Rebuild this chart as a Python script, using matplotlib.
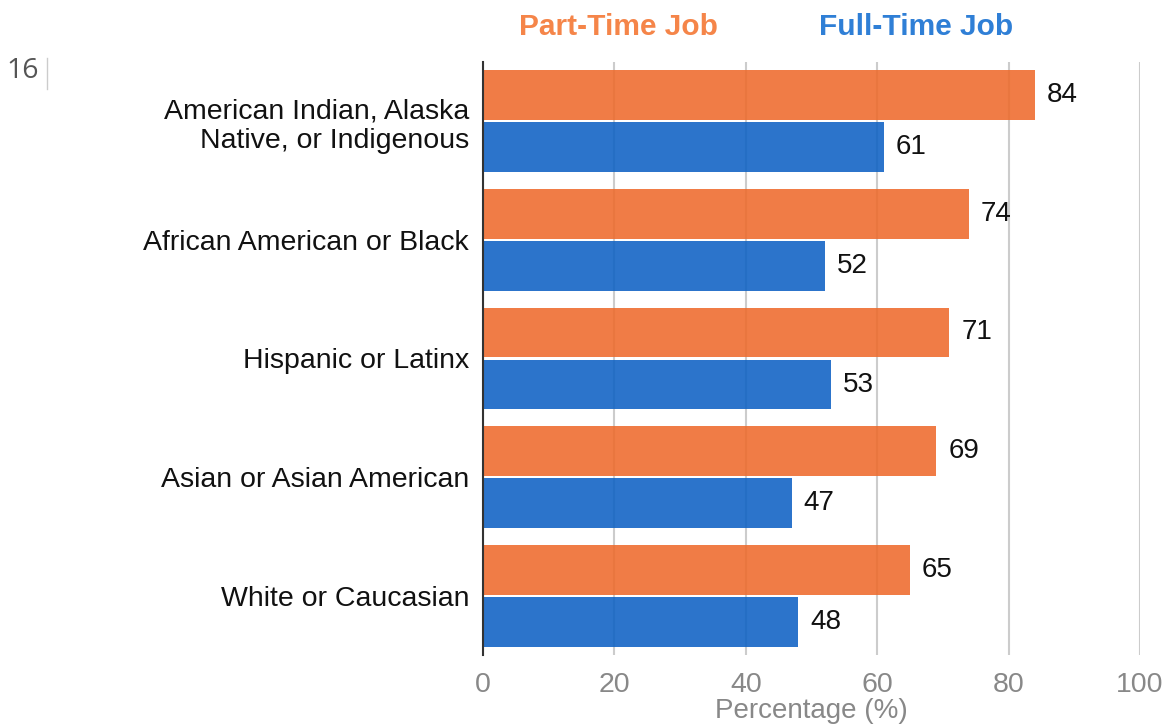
import numpy as np
import matplotlib
matplotlib.use("Agg")
import matplotlib.pyplot as plt

plt.rcParams['font.family'] = ['Liberation Sans', 'DejaVu Sans']

# data
groups = ['American Indian, Alaska\nNative, or Indigenous',
          'African American or Black',
          'Hispanic or Latinx',
          'Asian or Asian American',
          'White or Caucasian']
part_time = [84, 74, 71, 69, 65]
full_time = [61, 52, 53, 47, 48]
xticks = [0, 20, 40, 60, 80, 100]

orange = '#EE6A2C'
blue = '#0E61C4'

fig = plt.figure(figsize=(11.67, 7.24), dpi=100)
ax = fig.add_axes([483 / 1167, 1 - 655 / 724, (1140 - 483) / 1167, (655 - 62) / 724])

y = np.arange(len(groups))
h = 0.42
ax.barh(y - h / 2 - 0.01, part_time, height=h, color=orange, alpha=0.88, zorder=2)
ax.barh(y + h / 2 + 0.01, full_time, height=h, color=blue, alpha=0.88, zorder=2)

for i in range(len(groups)):
    ax.text(part_time[i] + 1.8, y[i] - h / 2 - 0.01, str(part_time[i]),
            va='center', ha='left', fontsize=20, color='#111111')
    ax.text(full_time[i] + 1.8, y[i] + h / 2 + 0.01, str(full_time[i]),
            va='center', ha='left', fontsize=20, color='#111111')

ax.set_ylim(len(groups) - 0.5, -0.5)
ax.set_xlim(0, 100)
ax.set_yticks(y)
ax.set_yticklabels(groups, fontsize=20.5, color='#111111')
ax.set_xticks(xticks)
ax.set_xticklabels([str(t) for t in xticks], fontsize=20.5, color='#888888')
ax.tick_params(axis='y', length=0, pad=10)
ax.tick_params(axis='x', length=0, pad=12)
ax.grid(axis='x', color='#cccccc', linewidth=1.5, zorder=1)
ax.set_axisbelow(True)
for s in ['top', 'right', 'bottom']:
    ax.spines[s].set_visible(False)
ax.spines['left'].set_color('#333333')
ax.spines['left'].set_linewidth(1.5)
ax.spines['left'].set_zorder(3)
ax.set_xlabel('Percentage (%)', fontsize=20, color='#888888', labelpad=0)

fig.text(618 / 1167, 1 - 27 / 724, 'Part-Time Job', color='#F58549', fontsize=21.5,
         fontweight='bold', ha='center', va='center')
fig.text(916 / 1167, 1 - 27 / 724, 'Full-Time Job', color='#2F7FD6', fontsize=21.5,
         fontweight='bold', ha='center', va='center')
fig.text(6 / 1167, 1 - 71 / 724, '16', color='#555555', fontsize=20.5,
         ha='left', va='center', family='Open Sans')
fig.lines.append(plt.Line2D([47 / 1167, 47 / 1167], [1 - 58 / 724, 1 - 89 / 724],
                            transform=fig.transFigure, color='#cccccc', linewidth=1))

fig.savefig('out.png', dpi=100)
